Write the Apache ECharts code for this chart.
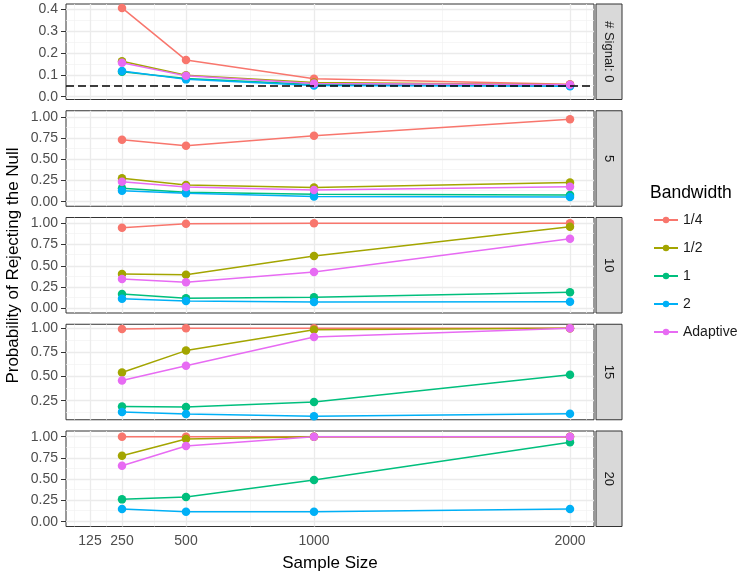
<!DOCTYPE html>
<html>
<head>
<meta charset="utf-8">
<script src="https://cdn.jsdelivr.net/npm/echarts@6/dist/echarts.min.js"></script>
<style>html,body{margin:0;padding:0;background:#fff}#c{width:741px;height:574px}</style>
</head>
<body>
<div id="c"></div>
<script>
// ---- data ----
const sampleSizes = [250, 500, 1000, 2000];
const xTickLabels = [125, 250, 500, 1000, 2000];
const bandwidths = ['1/4', '1/2', '1', '2', 'Adaptive'];
const panelLabels = ['# Signal: 0', '5', '10', '15', '20'];
// rows follow bandwidths order
const signal0 = [
  [0.405, 0.167, 0.082, 0.057],
  [0.162, 0.098, 0.065, 0.055],
  [0.114, 0.083, 0.056, 0.050],
  [0.117, 0.079, 0.051, 0.048],
  [0.155, 0.095, 0.060, 0.054]
];
const signal5 = [
  [0.735, 0.663, 0.782, 0.976],
  [0.278, 0.198, 0.168, 0.228],
  [0.159, 0.111, 0.088, 0.080],
  [0.130, 0.100, 0.062, 0.055],
  [0.237, 0.175, 0.139, 0.178]
];
const signal10 = [
  [0.948, 0.995, 1.000, 1.000],
  [0.404, 0.395, 0.615, 0.960],
  [0.168, 0.118, 0.129, 0.188],
  [0.113, 0.086, 0.074, 0.078],
  [0.345, 0.306, 0.427, 0.819]
];
const signal15 = [
  [0.993, 1.000, 1.000, 1.000],
  [0.542, 0.769, 0.986, 1.000],
  [0.190, 0.185, 0.236, 0.518],
  [0.133, 0.112, 0.088, 0.115],
  [0.459, 0.611, 0.910, 1.000]
];
const signal20 = [
  [1.000, 1.000, 1.000, 1.000],
  [0.776, 0.973, 1.000, 1.000],
  [0.263, 0.290, 0.490, 0.934],
  [0.149, 0.118, 0.118, 0.149],
  [0.659, 0.890, 1.000, 1.000]
];
const yTicks0 = [0, 0.1, 0.2, 0.3, 0.4];
const yMinor0 = [0.05, 0.15, 0.25, 0.35];
const yTicksProb = [0, 0.25, 0.5, 0.75, 1];
const yTicks15 = [0.25, 0.5, 0.75, 1];
const yMinorProb = [0.125, 0.375, 0.625, 0.875];
const xMinor = [62.5, 187.5, 375, 750, 1500, 2062.5];
const nullLevel = 0.05;

// ---- layout / style ----
const panels = [signal0, signal5, signal10, signal15, signal20];
const yRanges = [[-0.0128, 0.4228], [-0.054, 1.0776], [-0.055, 1.068], [0.052, 1.042], [-0.056, 1.067]];
const yTickSets = [yTicks0, yTicksProb, yTicksProb, yTicks15, yTicksProb];
const yMinorSets = [yMinor0, yMinorProb, yMinorProb, yMinorProb, yMinorProb];
const colors = ['#F8766D', '#A3A500', '#00BF7D', '#00B0F6', '#E76BF3'];
const FONT = 'Liberation Sans, Arial, Helvetica, sans-serif';
const panelLeft = 66, panelRight = 594, panelH = 95.5, panelStep = 106.75, panelTop0 = 4;

const grids = [], xAxes = [], yAxes = [], series = [], graphics = [];
panels.forEach((pdata, i) => {
  const top = panelTop0 + i * panelStep;
  grids.push({left: panelLeft, width: panelRight - panelLeft, top: top, height: panelH,
    show: true, borderColor: '#333333', borderWidth: 1, backgroundColor: '#ffffff'});
  const last = i === panels.length - 1;
  xAxes.push({type: 'value', gridIndex: i, min: 31.25, max: 2093.75,
    splitLine: {show: false}, axisLine: {show: false},
    axisTick: {show: last, length: 5, lineStyle: {color: '#333333'}, customValues: xTickLabels},
    axisLabel: {show: last, customValues: xTickLabels, formatter: v => String(v), color: '#4D4D4D', fontSize: 14, fontFamily: FONT, margin: 8},
    name: last ? 'Sample Size' : '', nameLocation: 'middle', nameGap: 28,
    nameTextStyle: {color: '#000', fontSize: 17, fontFamily: FONT}});
  const dec = i === 0 ? 1 : 2;
  yAxes.push({type: 'value', gridIndex: i, min: yRanges[i][0], max: yRanges[i][1],
    splitLine: {show: false}, axisLine: {show: false},
    axisTick: {show: true, length: 5, lineStyle: {color: '#333333'}, customValues: yTickSets[i]},
    axisLabel: {customValues: yTickSets[i], formatter: v => Number(v).toFixed(dec), color: '#4D4D4D', fontSize: 14, fontFamily: FONT, margin: 8}});
  // grid lines
  const ml = [];
  xMinor.forEach(v => ml.push({xAxis: v, lineStyle: {color: '#F2F2F2', width: 0.7, type: 'solid'}}));
  yMinorSets[i].forEach(v => { if (v > yRanges[i][0] && v < yRanges[i][1]) ml.push({yAxis: v, lineStyle: {color: '#F2F2F2', width: 0.7, type: 'solid'}}); });
  xTickLabels.forEach(v => ml.push({xAxis: v, lineStyle: {color: '#EBEBEB', width: 1.3, type: 'solid'}}));
  yTickSets[i].forEach(v => ml.push({yAxis: v, lineStyle: {color: '#EBEBEB', width: 1.3, type: 'solid'}}));
  series.push({type: 'line', xAxisIndex: i, yAxisIndex: i, data: [], silent: true, z: 1,
    markLine: {z: 1, silent: true, symbol: 'none', animation: false, label: {show: false}, data: ml}});
  pdata.forEach((vals, k) => {
    series.push({type: 'line', name: bandwidths[k], xAxisIndex: i, yAxisIndex: i,
      data: sampleSizes.map((x, j) => [x, vals[j]]),
      symbol: 'circle', symbolSize: 8.5, showSymbol: true,
      lineStyle: {color: colors[k], width: 1.5}, itemStyle: {color: colors[k]},
      animation: false, z: 2});
  });
  if (i === 0) {
    series.push({type: 'line', xAxisIndex: 0, yAxisIndex: 0, data: [], silent: true, z: 3,
      markLine: {z: 3, silent: true, symbol: 'none', animation: false, label: {show: false},
        data: [{yAxis: nullLevel, lineStyle: {color: '#000', width: 1.5, type: [8, 4]}}]}});
  }
  // strip
  graphics.push({type: 'rect', shape: {x: 596, y: top, width: 26, height: panelH},
    style: {fill: '#D9D9D9', stroke: '#333333', lineWidth: 1}});
  graphics.push({type: 'text', x: 609, y: top + panelH / 2, rotation: -Math.PI / 2,
    style: {text: panelLabels[i], align: 'center', verticalAlign: 'middle', fill: '#1A1A1A', fontSize: 13, fontFamily: FONT}});
});
graphics.push({type: 'text', x: 13, y: 265.5, rotation: Math.PI / 2,
  style: {text: 'Probability of Rejecting the Null', align: 'center', verticalAlign: 'middle', fill: '#000', fontSize: 17, fontFamily: FONT}});

const chart = echarts.init(document.getElementById('c'), null, {renderer: 'canvas'});
chart.setOption({
  animation: false,
  backgroundColor: '#ffffff',
  title: {text: 'Bandwidth', left: 650, top: 184, padding: 0, textStyle: {fontSize: 17.5, fontWeight: 'normal', color: '#000', fontFamily: FONT}},
  legend: {data: bandwidths, orient: 'vertical', left: 653, top: 213, padding: 0, itemGap: 14, itemWidth: 24, itemHeight: 8,
    selectedMode: false, textStyle: {fontSize: 14, color: '#1A1A1A', fontFamily: FONT}},
  grid: grids, xAxis: xAxes, yAxis: yAxes, series: series, graphic: graphics
});
</script>
</body>
</html>
